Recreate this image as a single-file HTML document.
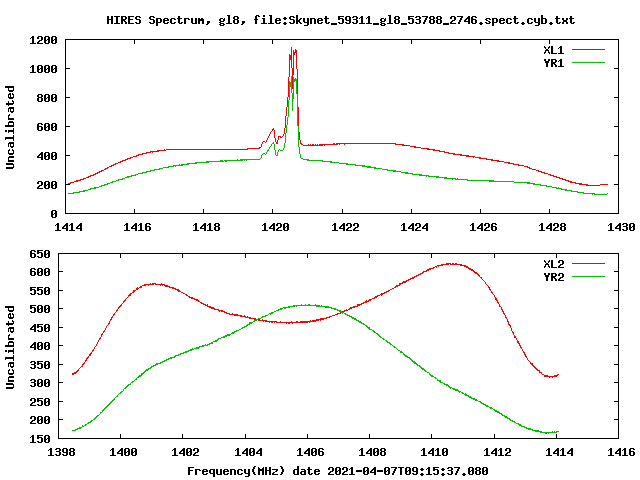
<!DOCTYPE html>
<html lang="en">
<head>
<meta charset="utf-8">
<title>HIRES Spectrum, gl8</title>
<style>
html,body{margin:0;padding:0;background:#fff;}
body{width:640px;height:480px;overflow:hidden;font-family:"Liberation Mono",monospace;}
svg{display:block;shape-rendering:crispEdges;}
/* real text layer (selectable/accessible); visible glyphs are the 7x13 bitmap shapes drawn on top */
#labels text{font:bold 11.67px "Liberation Mono",monospace;fill:#000;fill-opacity:0;white-space:pre;}
</style>
</head>
<body>
<svg width="640" height="480" viewBox="0 0 640 480">
<defs><path id="c40" d="M3 2h2v1h-2zM2 3h2v1h-2zM2 4h2v1h-2zM1 5h2v1h-2zM1 6h2v1h-2zM1 7h2v1h-2zM2 8h2v1h-2zM2 9h2v1h-2zM3 10h2v1h-2z"/><path id="c41" d="M1 2h2v1h-2zM2 3h2v1h-2zM2 4h2v1h-2zM3 5h2v1h-2zM3 6h2v1h-2zM3 7h2v1h-2zM2 8h2v1h-2zM2 9h2v1h-2zM1 10h2v1h-2z"/><path id="c44" d="M2 8h3v1h-3zM2 9h3v1h-3zM2 10h2v1h-2zM1 11h2v1h-2z"/><path id="c45" d="M0 6h6v1h-6zM0 7h6v1h-6z"/><path id="c46" d="M2 9h2v1h-2zM1 10h4v1h-4zM2 11h2v1h-2z"/><path id="c48" d="M1 3h4v1h-4zM0 4h2v1h-2zM4 4h2v1h-2zM0 5h2v1h-2zM4 5h2v1h-2zM0 6h2v1h-2zM3 6h3v1h-3zM0 7h3v1h-3zM4 7h2v1h-2zM0 8h2v1h-2zM4 8h2v1h-2zM0 9h2v1h-2zM4 9h2v1h-2zM1 10h4v1h-4z"/><path id="c49" d="M2 3h2v1h-2zM1 4h3v1h-3zM0 5h1v1h-1zM2 5h2v1h-2zM2 6h2v1h-2zM2 7h2v1h-2zM2 8h2v1h-2zM2 9h2v1h-2zM0 10h6v1h-6z"/><path id="c50" d="M1 3h4v1h-4zM0 4h2v1h-2zM4 4h2v1h-2zM0 5h2v1h-2zM4 5h2v1h-2zM4 6h2v1h-2zM2 7h3v1h-3zM1 8h2v1h-2zM0 9h2v1h-2zM0 10h6v1h-6z"/><path id="c51" d="M1 3h4v1h-4zM0 4h2v1h-2zM4 4h2v1h-2zM4 5h2v1h-2zM1 6h4v1h-4zM4 7h2v1h-2zM4 8h2v1h-2zM0 9h2v1h-2zM4 9h2v1h-2zM1 10h4v1h-4z"/><path id="c52" d="M4 3h2v1h-2zM3 4h3v1h-3zM2 5h4v1h-4zM1 6h2v1h-2zM4 6h2v1h-2zM0 7h2v1h-2zM4 7h2v1h-2zM0 8h6v1h-6zM4 9h2v1h-2zM4 10h2v1h-2z"/><path id="c53" d="M0 3h6v1h-6zM0 4h2v1h-2zM0 5h5v1h-5zM0 6h2v1h-2zM4 6h2v1h-2zM4 7h2v1h-2zM4 8h2v1h-2zM0 9h2v1h-2zM4 9h2v1h-2zM1 10h4v1h-4z"/><path id="c54" d="M1 3h4v1h-4zM0 4h2v1h-2zM4 4h2v1h-2zM0 5h2v1h-2zM0 6h5v1h-5zM0 7h2v1h-2zM4 7h2v1h-2zM0 8h2v1h-2zM4 8h2v1h-2zM0 9h2v1h-2zM4 9h2v1h-2zM1 10h4v1h-4z"/><path id="c55" d="M0 3h6v1h-6zM4 4h2v1h-2zM3 5h2v1h-2zM3 6h2v1h-2zM2 7h2v1h-2zM2 8h2v1h-2zM1 9h2v1h-2zM1 10h2v1h-2z"/><path id="c56" d="M1 3h4v1h-4zM0 4h2v1h-2zM4 4h2v1h-2zM0 5h2v1h-2zM4 5h2v1h-2zM1 6h4v1h-4zM0 7h2v1h-2zM4 7h2v1h-2zM0 8h2v1h-2zM4 8h2v1h-2zM0 9h2v1h-2zM4 9h2v1h-2zM1 10h4v1h-4z"/><path id="c57" d="M1 3h4v1h-4zM0 4h2v1h-2zM4 4h2v1h-2zM0 5h2v1h-2zM4 5h2v1h-2zM0 6h2v1h-2zM4 6h2v1h-2zM1 7h5v1h-5zM4 8h2v1h-2zM0 9h2v1h-2zM4 9h2v1h-2zM1 10h4v1h-4z"/><path id="c58" d="M2 4h2v1h-2zM1 5h4v1h-4zM2 6h2v1h-2zM2 9h2v1h-2zM1 10h4v1h-4zM2 11h2v1h-2z"/><path id="c69" d="M0 3h6v1h-6zM0 4h2v1h-2zM0 5h2v1h-2zM0 6h5v1h-5zM0 7h2v1h-2zM0 8h2v1h-2zM0 9h2v1h-2zM0 10h6v1h-6z"/><path id="c70" d="M0 3h6v1h-6zM0 4h2v1h-2zM0 5h2v1h-2zM0 6h5v1h-5zM0 7h2v1h-2zM0 8h2v1h-2zM0 9h2v1h-2zM0 10h2v1h-2z"/><path id="c72" d="M0 3h2v1h-2zM4 3h2v1h-2zM0 4h2v1h-2zM4 4h2v1h-2zM0 5h2v1h-2zM4 5h2v1h-2zM0 6h6v1h-6zM0 7h2v1h-2zM4 7h2v1h-2zM0 8h2v1h-2zM4 8h2v1h-2zM0 9h2v1h-2zM4 9h2v1h-2zM0 10h2v1h-2zM4 10h2v1h-2z"/><path id="c73" d="M0 3h6v1h-6zM2 4h2v1h-2zM2 5h2v1h-2zM2 6h2v1h-2zM2 7h2v1h-2zM2 8h2v1h-2zM2 9h2v1h-2zM0 10h6v1h-6z"/><path id="c76" d="M0 3h2v1h-2zM0 4h2v1h-2zM0 5h2v1h-2zM0 6h2v1h-2zM0 7h2v1h-2zM0 8h2v1h-2zM0 9h2v1h-2zM0 10h6v1h-6z"/><path id="c77" d="M0 3h1v1h-1zM5 3h1v1h-1zM0 4h2v1h-2zM4 4h2v1h-2zM0 5h6v1h-6zM0 6h6v1h-6zM0 7h2v1h-2zM4 7h2v1h-2zM0 8h2v1h-2zM4 8h2v1h-2zM0 9h2v1h-2zM4 9h2v1h-2zM0 10h2v1h-2zM4 10h2v1h-2z"/><path id="c82" d="M0 3h5v1h-5zM0 4h2v1h-2zM4 4h2v1h-2zM0 5h2v1h-2zM4 5h2v1h-2zM0 6h5v1h-5zM0 7h4v1h-4zM0 8h2v1h-2zM3 8h2v1h-2zM0 9h2v1h-2zM4 9h2v1h-2zM0 10h2v1h-2zM4 10h2v1h-2z"/><path id="c83" d="M1 3h4v1h-4zM0 4h2v1h-2zM4 4h2v1h-2zM0 5h2v1h-2zM1 6h4v1h-4zM4 7h2v1h-2zM4 8h2v1h-2zM0 9h2v1h-2zM4 9h2v1h-2zM1 10h4v1h-4z"/><path id="c84" d="M0 3h6v1h-6zM2 4h2v1h-2zM2 5h2v1h-2zM2 6h2v1h-2zM2 7h2v1h-2zM2 8h2v1h-2zM2 9h2v1h-2zM2 10h2v1h-2z"/><path id="c85" d="M0 3h2v1h-2zM4 3h2v1h-2zM0 4h2v1h-2zM4 4h2v1h-2zM0 5h2v1h-2zM4 5h2v1h-2zM0 6h2v1h-2zM4 6h2v1h-2zM0 7h2v1h-2zM4 7h2v1h-2zM0 8h2v1h-2zM4 8h2v1h-2zM0 9h2v1h-2zM4 9h2v1h-2zM1 10h4v1h-4z"/><path id="c88" d="M0 3h1v1h-1zM5 3h1v1h-1zM0 4h2v1h-2zM4 4h2v1h-2zM1 5h1v1h-1zM4 5h1v1h-1zM2 6h2v1h-2zM1 7h4v1h-4zM1 8h1v1h-1zM4 8h1v1h-1zM0 9h2v1h-2zM4 9h2v1h-2zM0 10h1v1h-1zM5 10h1v1h-1z"/><path id="c89" d="M0 3h2v1h-2zM4 3h2v1h-2zM0 4h2v1h-2zM4 4h2v1h-2zM1 5h4v1h-4zM1 6h4v1h-4zM2 7h2v1h-2zM2 8h2v1h-2zM2 9h2v1h-2zM2 10h2v1h-2z"/><path id="c95" d="M0 10h6v1h-6zM0 11h6v1h-6z"/><path id="c97" d="M1 5h4v1h-4zM4 6h2v1h-2zM1 7h5v1h-5zM0 8h2v1h-2zM4 8h2v1h-2zM0 9h2v1h-2zM4 9h2v1h-2zM1 10h5v1h-5z"/><path id="c98" d="M0 2h2v1h-2zM0 3h2v1h-2zM0 4h2v1h-2zM0 5h5v1h-5zM0 6h2v1h-2zM4 6h2v1h-2zM0 7h2v1h-2zM4 7h2v1h-2zM0 8h2v1h-2zM4 8h2v1h-2zM0 9h2v1h-2zM4 9h2v1h-2zM0 10h5v1h-5z"/><path id="c99" d="M1 5h4v1h-4zM0 6h2v1h-2zM4 6h2v1h-2zM0 7h2v1h-2zM0 8h2v1h-2zM0 9h2v1h-2zM4 9h2v1h-2zM1 10h4v1h-4z"/><path id="c100" d="M4 2h2v1h-2zM4 3h2v1h-2zM4 4h2v1h-2zM1 5h5v1h-5zM0 6h2v1h-2zM4 6h2v1h-2zM0 7h2v1h-2zM4 7h2v1h-2zM0 8h2v1h-2zM4 8h2v1h-2zM0 9h2v1h-2zM4 9h2v1h-2zM1 10h5v1h-5z"/><path id="c101" d="M1 5h4v1h-4zM0 6h2v1h-2zM4 6h2v1h-2zM0 7h6v1h-6zM0 8h2v1h-2zM0 9h2v1h-2zM4 9h2v1h-2zM1 10h4v1h-4z"/><path id="c102" d="M2 2h3v1h-3zM1 3h2v1h-2zM4 3h2v1h-2zM1 4h2v1h-2zM1 5h2v1h-2zM0 6h4v1h-4zM1 7h2v1h-2zM1 8h2v1h-2zM1 9h2v1h-2zM1 10h2v1h-2z"/><path id="c103" d="M1 5h3v1h-3zM5 5h1v1h-1zM0 6h2v1h-2zM4 6h2v1h-2zM0 7h2v1h-2zM4 7h2v1h-2zM1 8h4v1h-4zM0 9h2v1h-2zM1 10h4v1h-4zM0 11h2v1h-2zM4 11h2v1h-2zM1 12h4v1h-4z"/><path id="c105" d="M2 2h2v1h-2zM2 3h2v1h-2zM1 5h3v1h-3zM2 6h2v1h-2zM2 7h2v1h-2zM2 8h2v1h-2zM2 9h2v1h-2zM0 10h6v1h-6z"/><path id="c107" d="M0 2h2v1h-2zM0 3h2v1h-2zM0 4h2v1h-2zM0 5h2v1h-2zM4 5h2v1h-2zM0 6h2v1h-2zM3 6h2v1h-2zM0 7h4v1h-4zM0 8h4v1h-4zM0 9h2v1h-2zM3 9h2v1h-2zM0 10h2v1h-2zM4 10h2v1h-2z"/><path id="c108" d="M1 2h3v1h-3zM2 3h2v1h-2zM2 4h2v1h-2zM2 5h2v1h-2zM2 6h2v1h-2zM2 7h2v1h-2zM2 8h2v1h-2zM2 9h2v1h-2zM0 10h6v1h-6z"/><path id="c109" d="M0 5h2v1h-2zM3 5h2v1h-2zM0 6h6v1h-6zM0 7h6v1h-6zM0 8h2v1h-2zM4 8h2v1h-2zM0 9h2v1h-2zM4 9h2v1h-2zM0 10h2v1h-2zM4 10h2v1h-2z"/><path id="c110" d="M0 5h5v1h-5zM0 6h2v1h-2zM4 6h2v1h-2zM0 7h2v1h-2zM4 7h2v1h-2zM0 8h2v1h-2zM4 8h2v1h-2zM0 9h2v1h-2zM4 9h2v1h-2zM0 10h2v1h-2zM4 10h2v1h-2z"/><path id="c112" d="M0 5h5v1h-5zM0 6h2v1h-2zM4 6h2v1h-2zM0 7h2v1h-2zM4 7h2v1h-2zM0 8h2v1h-2zM4 8h2v1h-2zM0 9h5v1h-5zM0 10h2v1h-2zM0 11h2v1h-2zM0 12h2v1h-2z"/><path id="c113" d="M1 5h5v1h-5zM0 6h2v1h-2zM4 6h2v1h-2zM0 7h2v1h-2zM4 7h2v1h-2zM0 8h2v1h-2zM4 8h2v1h-2zM1 9h5v1h-5zM4 10h2v1h-2zM4 11h2v1h-2zM4 12h2v1h-2z"/><path id="c114" d="M0 5h5v1h-5zM0 6h2v1h-2zM4 6h2v1h-2zM0 7h2v1h-2zM0 8h2v1h-2zM0 9h2v1h-2zM0 10h2v1h-2z"/><path id="c115" d="M1 5h4v1h-4zM0 6h2v1h-2zM4 6h2v1h-2zM1 7h2v1h-2zM3 8h2v1h-2zM0 9h2v1h-2zM4 9h2v1h-2zM1 10h4v1h-4z"/><path id="c116" d="M1 3h2v1h-2zM1 4h2v1h-2zM0 5h5v1h-5zM1 6h2v1h-2zM1 7h2v1h-2zM1 8h2v1h-2zM1 9h2v1h-2zM4 9h2v1h-2zM2 10h3v1h-3z"/><path id="c117" d="M0 5h2v1h-2zM4 5h2v1h-2zM0 6h2v1h-2zM4 6h2v1h-2zM0 7h2v1h-2zM4 7h2v1h-2zM0 8h2v1h-2zM4 8h2v1h-2zM0 9h2v1h-2zM4 9h2v1h-2zM1 10h5v1h-5z"/><path id="c120" d="M0 5h2v1h-2zM4 5h2v1h-2zM0 6h2v1h-2zM4 6h2v1h-2zM1 7h4v1h-4zM1 8h4v1h-4zM0 9h2v1h-2zM4 9h2v1h-2zM0 10h2v1h-2zM4 10h2v1h-2z"/><path id="c121" d="M0 5h2v1h-2zM4 5h2v1h-2zM0 6h2v1h-2zM4 6h2v1h-2zM0 7h2v1h-2zM4 7h2v1h-2zM0 8h2v1h-2zM4 8h2v1h-2zM1 9h5v1h-5zM4 10h2v1h-2zM4 11h2v1h-2zM1 12h4v1h-4z"/><path id="c122" d="M0 5h6v1h-6zM4 6h2v1h-2zM3 7h2v1h-2zM1 8h2v1h-2zM0 9h2v1h-2zM0 10h6v1h-6z"/></defs>
<rect width="640" height="480" fill="#fff"/>
<g id="curves">
<path fill="#f00" d="M261 144v3h1v-3zM274 130v8h1v-8zM275 138v4h1v-4zM277 140v4h1v-4zM278 136v4h1v-4zM284 128v6h1v-6zM285 116v12h1v-12zM286 107v9h1v-9zM287 97v10h1v-10zM288 77v20h1v-20zM289 54v23h1v-23zM290 55v5h1v-5zM291 47v21h1v-21zM292 68v21h1v-21zM293 50v25h1v-25zM294 52v3h1v-3zM295 49v4h1v-4zM296 50v19h1v-19zM297 69v38h1v-38zM298 107v25h1v-25zM299 132v8h1v-8zM300 140v4h1v-4zM273 128h1v1h-1zM272 129h2v1h-2zM272 130h1v1h-1zM271 131h1v1h-1zM270 132h1v1h-1zM270 133h1v1h-1zM269 134h1v1h-1zM283 134h1v1h-1zM269 135h1v1h-1zM283 135h1v1h-1zM268 136h1v1h-1zM279 136h2v1h-2zM282 136h1v1h-1zM268 137h1v1h-1zM280 137h2v1h-2zM267 138h1v1h-1zM267 139h1v1h-1zM266 140h1v1h-1zM263 141h2v1h-2zM266 141h1v1h-1zM262 142h1v1h-1zM265 142h1v1h-1zM276 142h1v1h-1zM262 143h1v1h-1zM276 143h1v1h-1zM301 143h1v1h-1zM333 143h2v1h-2zM336 143h60v1h-60zM301 144h2v1h-2zM308 144h1v1h-1zM310 144h1v1h-1zM312 144h2v1h-2zM315 144h1v1h-1zM317 144h1v1h-1zM319 144h19v1h-19zM339 144h1v1h-1zM344 144h1v1h-1zM395 144h9v1h-9zM303 145h20v1h-20zM324 145h1v1h-1zM402 145h8v1h-8zM410 146h6v1h-6zM259 147h2v1h-2zM414 147h7v1h-7zM247 148h13v1h-13zM421 148h8v1h-8zM164 149h1v1h-1zM166 149h82v1h-82zM427 149h8v1h-8zM157 150h9v1h-9zM433 150h7v1h-7zM150 151h9v1h-9zM439 151h6v1h-6zM146 152h5v1h-5zM152 152h1v1h-1zM444 152h5v1h-5zM142 153h5v1h-5zM448 153h7v1h-7zM138 154h5v1h-5zM453 154h9v1h-9zM136 155h3v1h-3zM460 155h9v1h-9zM133 156h4v1h-4zM466 156h9v1h-9zM130 157h3v1h-3zM473 157h1v1h-1zM475 157h6v1h-6zM127 158h4v1h-4zM479 158h8v1h-8zM125 159h3v1h-3zM486 159h7v1h-7zM122 160h4v1h-4zM491 160h8v1h-8zM120 161h3v1h-3zM497 161h7v1h-7zM118 162h3v1h-3zM504 162h6v1h-6zM115 163h3v1h-3zM508 163h6v1h-6zM113 164h3v1h-3zM513 164h6v1h-6zM111 165h3v1h-3zM518 165h6v1h-6zM109 166h3v1h-3zM524 166h4v1h-4zM107 167h2v1h-2zM527 167h3v1h-3zM105 168h3v1h-3zM529 168h3v1h-3zM104 169h2v1h-2zM532 169h4v1h-4zM101 170h3v1h-3zM536 170h3v1h-3zM99 171h3v1h-3zM538 171h4v1h-4zM97 172h3v1h-3zM541 172h4v1h-4zM95 173h3v1h-3zM544 173h4v1h-4zM93 174h3v1h-3zM548 174h3v1h-3zM90 175h4v1h-4zM550 175h4v1h-4zM88 176h3v1h-3zM553 176h4v1h-4zM86 177h3v1h-3zM556 177h4v1h-4zM83 178h3v1h-3zM559 178h4v1h-4zM80 179h4v1h-4zM562 179h4v1h-4zM76 180h5v1h-5zM565 180h4v1h-4zM74 181h4v1h-4zM568 181h4v1h-4zM70 182h4v1h-4zM570 182h6v1h-6zM68 183h3v1h-3zM575 183h7v1h-7zM579 184h9v1h-9zM600 184h8v1h-8zM586 185h14v1h-14z"/>
<path fill="#00c000" d="M261 155v3h1v-3zM274 144v6h1v-6zM275 150v5h1v-5zM277 152v4h1v-4zM284 143v5h1v-5zM285 133v10h1v-10zM286 125v8h1v-8zM287 117v8h1v-8zM288 100v17h1v-17zM289 81v19h1v-19zM290 82v5h1v-5zM291 76v17h1v-17zM292 93v18h1v-18zM293 77v22h1v-22zM294 79v3h1v-3zM295 78v3h1v-3zM296 79v15h1v-15zM297 94v32h1v-32zM298 126v21h1v-21zM299 147v7h1v-7zM300 154v4h1v-4zM273 142h1v1h-1zM272 143h2v1h-2zM271 144h1v1h-1zM271 145h1v1h-1zM270 146h1v1h-1zM269 147h1v1h-1zM269 148h1v1h-1zM283 148h1v1h-1zM268 149h1v1h-1zM279 149h1v1h-1zM283 149h1v1h-1zM267 150h2v1h-2zM278 150h1v1h-1zM280 150h3v1h-3zM267 151h1v1h-1zM278 151h1v1h-1zM266 152h1v1h-1zM263 153h2v1h-2zM266 153h1v1h-1zM262 154h1v1h-1zM265 154h1v1h-1zM276 155h1v1h-1zM260 158h1v1h-1zM301 158h2v1h-2zM237 159h1v1h-1zM240 159h20v1h-20zM303 159h6v1h-6zM220 160h3v1h-3zM224 160h19v1h-19zM244 160h1v1h-1zM246 160h1v1h-1zM307 160h16v1h-16zM206 161h18v1h-18zM225 161h2v1h-2zM322 161h10v1h-10zM195 162h14v1h-14zM330 162h9v1h-9zM187 163h10v1h-10zM339 163h9v1h-9zM179 164h1v1h-1zM181 164h8v1h-8zM346 164h10v1h-10zM173 165h10v1h-10zM355 165h10v1h-10zM168 166h6v1h-6zM175 166h1v1h-1zM362 166h9v1h-9zM163 167h6v1h-6zM367 167h9v1h-9zM159 168h4v1h-4zM374 168h8v1h-8zM154 169h6v1h-6zM382 169h6v1h-6zM150 170h5v1h-5zM387 170h9v1h-9zM146 171h5v1h-5zM393 171h8v1h-8zM142 172h5v1h-5zM401 172h7v1h-7zM138 173h5v1h-5zM405 173h8v1h-8zM135 174h3v1h-3zM412 174h10v1h-10zM131 175h5v1h-5zM419 175h10v1h-10zM127 176h5v1h-5zM426 176h1v1h-1zM428 176h11v1h-11zM125 177h4v1h-4zM436 177h11v1h-11zM122 178h3v1h-3zM444 178h12v1h-12zM457 178h1v1h-1zM118 179h5v1h-5zM452 179h1v1h-1zM455 179h13v1h-13zM116 180h3v1h-3zM467 180h27v1h-27zM112 181h4v1h-4zM489 181h25v1h-25zM110 182h3v1h-3zM514 182h16v1h-16zM107 183h3v1h-3zM527 183h8v1h-8zM104 184h4v1h-4zM533 184h8v1h-8zM101 185h4v1h-4zM540 185h7v1h-7zM99 186h3v1h-3zM546 186h6v1h-6zM94 187h5v1h-5zM552 187h5v1h-5zM558 187h1v1h-1zM90 188h6v1h-6zM556 188h6v1h-6zM88 189h3v1h-3zM561 189h6v1h-6zM83 190h5v1h-5zM565 190h7v1h-7zM79 191h6v1h-6zM571 191h7v1h-7zM73 192h7v1h-7zM577 192h7v1h-7zM68 193h6v1h-6zM583 193h12v1h-12zM607 193h1v1h-1zM592 194h1v1h-1zM594 194h13v1h-13z"/>
<path fill="#f00" d="M82 364v3h1v-3zM86 358v3h1v-3zM90 353v3h1v-3zM101 334v3h1v-3zM109 321v3h1v-3zM111 317v3h1v-3zM130 293v3h1v-3zM133 290v3h1v-3zM137 287v3h1v-3zM178 289v3h1v-3zM207 304v3h1v-3zM320 318v3h1v-3zM357 304v3h1v-3zM366 300v3h1v-3zM381 293v3h1v-3zM399 283v3h1v-3zM489 287v3h1v-3zM495 297v3h1v-3zM496 298v3h1v-3zM497 300v3h1v-3zM499 304v3h1v-3zM501 307v3h1v-3zM502 309v3h1v-3zM503 311v3h1v-3zM505 315v3h1v-3zM507 319v3h1v-3zM508 321v4h1v-4zM510 325v3h1v-3zM511 328v3h1v-3zM513 332v3h1v-3zM514 335v3h1v-3zM517 340v3h1v-3zM518 341v3h1v-3zM519 343v3h1v-3zM520 345v3h1v-3zM524 352v3h1v-3zM525 354v3h1v-3zM532 363v3h1v-3zM539 370v3h1v-3zM446 263h5v1h-5zM452 263h2v1h-2zM455 263h2v1h-2zM441 264h8v1h-8zM450 264h12v1h-12zM437 265h6v1h-6zM460 265h6v1h-6zM435 266h2v1h-2zM438 266h1v1h-1zM464 266h4v1h-4zM433 267h2v1h-2zM436 267h1v1h-1zM466 267h3v1h-3zM429 268h5v1h-5zM468 268h3v1h-3zM427 269h4v1h-4zM469 269h4v1h-4zM426 270h3v1h-3zM471 270h3v1h-3zM423 271h4v1h-4zM473 271h2v1h-2zM422 272h2v1h-2zM474 272h3v1h-3zM420 273h3v1h-3zM475 273h3v1h-3zM418 274h3v1h-3zM477 274h2v1h-2zM416 275h3v1h-3zM478 275h2v1h-2zM414 276h3v1h-3zM479 276h1v1h-1zM412 277h3v1h-3zM480 277h2v1h-2zM410 278h4v1h-4zM481 278h1v1h-1zM408 279h3v1h-3zM482 279h1v1h-1zM406 280h3v1h-3zM483 280h1v1h-1zM403 281h4v1h-4zM484 281h1v1h-1zM402 282h4v1h-4zM485 282h1v1h-1zM150 283h1v1h-1zM152 283h4v1h-4zM161 283h1v1h-1zM400 283h3v1h-3zM485 283h1v1h-1zM144 284h10v1h-10zM155 284h10v1h-10zM400 284h1v1h-1zM486 284h1v1h-1zM142 285h4v1h-4zM148 285h1v1h-1zM160 285h1v1h-1zM162 285h1v1h-1zM164 285h4v1h-4zM396 285h3v1h-3zM487 285h1v1h-1zM140 286h2v1h-2zM165 286h5v1h-5zM395 286h3v1h-3zM488 286h1v1h-1zM139 287h3v1h-3zM169 287h5v1h-5zM394 287h2v1h-2zM488 287h1v1h-1zM136 288h1v1h-1zM138 288h1v1h-1zM172 288h4v1h-4zM392 288h2v1h-2zM136 289h1v1h-1zM175 289h3v1h-3zM390 289h2v1h-2zM490 289h1v1h-1zM134 290h2v1h-2zM177 290h1v1h-1zM179 290h1v1h-1zM388 290h2v1h-2zM490 290h1v1h-1zM134 291h1v1h-1zM179 291h2v1h-2zM386 291h3v1h-3zM491 291h1v1h-1zM132 292h1v1h-1zM181 292h2v1h-2zM384 292h3v1h-3zM491 292h2v1h-2zM131 293h1v1h-1zM183 293h2v1h-2zM382 293h3v1h-3zM492 293h1v1h-1zM129 294h1v1h-1zM185 294h2v1h-2zM380 294h1v1h-1zM382 294h1v1h-1zM493 294h1v1h-1zM128 295h2v1h-2zM186 295h2v1h-2zM377 295h3v1h-3zM494 295h1v1h-1zM128 296h1v1h-1zM188 296h2v1h-2zM375 296h3v1h-3zM494 296h1v1h-1zM127 297h1v1h-1zM189 297h4v1h-4zM374 297h3v1h-3zM126 298h1v1h-1zM191 298h4v1h-4zM372 298h3v1h-3zM125 299h1v1h-1zM194 299h4v1h-4zM369 299h3v1h-3zM124 300h2v1h-2zM196 300h3v1h-3zM368 300h3v1h-3zM123 301h2v1h-2zM198 301h2v1h-2zM365 301h1v1h-1zM367 301h2v1h-2zM123 302h1v1h-1zM200 302h2v1h-2zM363 302h3v1h-3zM498 302h1v1h-1zM122 303h1v1h-1zM201 303h3v1h-3zM361 303h3v1h-3zM498 303h1v1h-1zM121 304h1v1h-1zM203 304h3v1h-3zM358 304h4v1h-4zM120 305h2v1h-2zM205 305h2v1h-2zM358 305h2v1h-2zM119 306h2v1h-2zM208 306h3v1h-3zM353 306h4v1h-4zM500 306h1v1h-1zM118 307h2v1h-2zM209 307h5v1h-5zM350 307h5v1h-5zM118 308h1v1h-1zM211 308h4v1h-4zM349 308h3v1h-3zM117 309h1v1h-1zM214 309h5v1h-5zM346 309h1v1h-1zM348 309h2v1h-2zM116 310h2v1h-2zM218 310h5v1h-5zM344 310h4v1h-4zM116 311h1v1h-1zM219 311h1v1h-1zM221 311h4v1h-4zM342 311h3v1h-3zM115 312h1v1h-1zM224 312h3v1h-3zM340 312h3v1h-3zM114 313h1v1h-1zM226 313h4v1h-4zM232 313h1v1h-1zM337 313h4v1h-4zM504 313h1v1h-1zM113 314h2v1h-2zM229 314h9v1h-9zM335 314h3v1h-3zM504 314h1v1h-1zM113 315h1v1h-1zM234 315h8v1h-8zM244 315h1v1h-1zM332 315h3v1h-3zM112 316h1v1h-1zM240 316h6v1h-6zM247 316h1v1h-1zM329 316h3v1h-3zM112 317h1v1h-1zM245 317h6v1h-6zM326 317h4v1h-4zM506 317h1v1h-1zM249 318h7v1h-7zM321 318h6v1h-6zM506 318h1v1h-1zM110 319h1v1h-1zM254 319h6v1h-6zM262 319h1v1h-1zM316 319h4v1h-4zM321 319h3v1h-3zM110 320h1v1h-1zM258 320h9v1h-9zM310 320h1v1h-1zM312 320h7v1h-7zM263 321h1v1h-1zM265 321h12v1h-12zM280 321h1v1h-1zM291 321h1v1h-1zM296 321h2v1h-2zM300 321h16v1h-16zM269 322h1v1h-1zM271 322h2v1h-2zM274 322h1v1h-1zM276 322h32v1h-32zM309 322h1v1h-1zM108 323h1v1h-1zM286 323h1v1h-1zM288 323h2v1h-2zM292 323h1v1h-1zM108 324h1v1h-1zM509 324h1v1h-1zM107 325h1v1h-1zM509 325h1v1h-1zM106 326h1v1h-1zM106 327h1v1h-1zM105 328h1v1h-1zM105 329h1v1h-1zM104 330h1v1h-1zM103 331h2v1h-2zM512 331h1v1h-1zM103 332h1v1h-1zM512 332h1v1h-1zM102 333h1v1h-1zM102 334h1v1h-1zM515 336h1v1h-1zM100 337h1v1h-1zM515 337h1v1h-1zM99 338h2v1h-2zM516 338h1v1h-1zM99 339h1v1h-1zM516 339h1v1h-1zM98 340h1v1h-1zM98 341h1v1h-1zM97 342h1v1h-1zM97 343h1v1h-1zM96 344h1v1h-1zM96 345h1v1h-1zM95 346h1v1h-1zM94 347h1v1h-1zM521 347h1v1h-1zM94 348h1v1h-1zM521 348h1v1h-1zM93 349h1v1h-1zM522 349h1v1h-1zM92 350h2v1h-2zM522 350h1v1h-1zM92 351h1v1h-1zM523 351h1v1h-1zM91 352h1v1h-1zM523 352h1v1h-1zM91 353h1v1h-1zM89 354h1v1h-1zM89 355h1v1h-1zM88 356h1v1h-1zM526 356h1v1h-1zM87 357h2v1h-2zM526 357h1v1h-1zM87 358h1v1h-1zM527 358h1v1h-1zM527 359h1v1h-1zM85 360h1v1h-1zM528 360h1v1h-1zM85 361h1v1h-1zM529 361h1v1h-1zM84 362h1v1h-1zM530 362h1v1h-1zM83 363h2v1h-2zM530 363h2v1h-2zM83 364h1v1h-1zM531 364h1v1h-1zM533 365h1v1h-1zM81 366h1v1h-1zM533 366h2v1h-2zM80 367h1v1h-1zM534 367h2v1h-2zM79 368h1v1h-1zM535 368h2v1h-2zM78 369h1v1h-1zM536 369h2v1h-2zM77 370h2v1h-2zM537 370h2v1h-2zM76 371h2v1h-2zM74 372h3v1h-3zM540 372h2v1h-2zM72 373h4v1h-4zM541 373h1v1h-1zM72 374h2v1h-2zM542 374h2v1h-2zM557 374h2v1h-2zM544 375h4v1h-4zM554 375h4v1h-4zM544 376h13v1h-13zM549 377h1v1h-1zM552 377h1v1h-1z"/>
<path fill="#00c000" d="M141 373v3h1v-3zM249 322v3h1v-3zM369 327v3h1v-3zM414 361v3h1v-3zM440 380v3h1v-3zM465 393v3h1v-3zM301 304h1v1h-1zM305 304h1v1h-1zM308 304h2v1h-2zM315 304h1v1h-1zM293 305h27v1h-27zM321 305h1v1h-1zM288 306h7v1h-7zM296 306h1v1h-1zM316 306h13v1h-13zM283 307h7v1h-7zM325 307h7v1h-7zM280 308h3v1h-3zM284 308h2v1h-2zM331 308h5v1h-5zM278 309h4v1h-4zM334 309h4v1h-4zM276 310h3v1h-3zM337 310h4v1h-4zM274 311h2v1h-2zM339 311h3v1h-3zM271 312h3v1h-3zM341 312h3v1h-3zM269 313h4v1h-4zM342 313h1v1h-1zM344 313h2v1h-2zM268 314h1v1h-1zM270 314h1v1h-1zM345 314h3v1h-3zM265 315h3v1h-3zM347 315h3v1h-3zM262 316h4v1h-4zM349 316h3v1h-3zM261 317h2v1h-2zM351 317h3v1h-3zM258 318h3v1h-3zM352 318h4v1h-4zM256 319h2v1h-2zM354 319h3v1h-3zM254 320h3v1h-3zM356 320h3v1h-3zM253 321h2v1h-2zM358 321h3v1h-3zM250 322h3v1h-3zM359 322h3v1h-3zM250 323h2v1h-2zM361 323h3v1h-3zM247 324h2v1h-2zM363 324h2v1h-2zM246 325h2v1h-2zM365 325h2v1h-2zM244 326h3v1h-3zM366 326h2v1h-2zM242 327h3v1h-3zM367 327h2v1h-2zM241 328h2v1h-2zM368 328h1v1h-1zM239 329h2v1h-2zM370 329h2v1h-2zM236 330h3v1h-3zM372 330h2v1h-2zM234 331h3v1h-3zM373 331h2v1h-2zM232 332h3v1h-3zM374 332h2v1h-2zM231 333h3v1h-3zM376 333h2v1h-2zM227 334h4v1h-4zM377 334h2v1h-2zM225 335h5v1h-5zM378 335h2v1h-2zM223 336h4v1h-4zM379 336h2v1h-2zM221 337h4v1h-4zM380 337h2v1h-2zM218 338h3v1h-3zM382 338h2v1h-2zM217 339h2v1h-2zM383 339h2v1h-2zM215 340h3v1h-3zM385 340h2v1h-2zM213 341h4v1h-4zM386 341h2v1h-2zM211 342h2v1h-2zM387 342h3v1h-3zM209 343h4v1h-4zM389 343h2v1h-2zM205 344h1v1h-1zM207 344h3v1h-3zM390 344h2v1h-2zM202 345h6v1h-6zM392 345h1v1h-1zM199 346h5v1h-5zM393 346h2v1h-2zM196 347h4v1h-4zM394 347h2v1h-2zM192 348h1v1h-1zM194 348h5v1h-5zM396 348h1v1h-1zM190 349h4v1h-4zM397 349h1v1h-1zM188 350h4v1h-4zM398 350h2v1h-2zM185 351h4v1h-4zM400 351h2v1h-2zM183 352h4v1h-4zM400 352h3v1h-3zM180 353h4v1h-4zM403 353h1v1h-1zM178 354h3v1h-3zM403 354h2v1h-2zM175 355h4v1h-4zM404 355h3v1h-3zM174 356h2v1h-2zM405 356h3v1h-3zM170 357h5v1h-5zM407 357h3v1h-3zM168 358h4v1h-4zM409 358h2v1h-2zM166 359h3v1h-3zM410 359h2v1h-2zM164 360h3v1h-3zM411 360h2v1h-2zM162 361h3v1h-3zM412 361h2v1h-2zM160 362h3v1h-3zM413 362h1v1h-1zM415 362h1v1h-1zM156 363h5v1h-5zM415 363h2v1h-2zM155 364h3v1h-3zM416 364h2v1h-2zM153 365h3v1h-3zM417 365h3v1h-3zM151 366h3v1h-3zM419 366h2v1h-2zM150 367h2v1h-2zM420 367h2v1h-2zM148 368h3v1h-3zM421 368h3v1h-3zM146 369h3v1h-3zM422 369h3v1h-3zM145 370h3v1h-3zM424 370h2v1h-2zM144 371h2v1h-2zM425 371h2v1h-2zM143 372h2v1h-2zM427 372h2v1h-2zM142 373h2v1h-2zM429 373h1v1h-1zM142 374h1v1h-1zM429 374h2v1h-2zM139 375h2v1h-2zM430 375h3v1h-3zM138 376h3v1h-3zM431 376h3v1h-3zM137 377h2v1h-2zM434 377h2v1h-2zM136 378h1v1h-1zM435 378h2v1h-2zM135 379h2v1h-2zM437 379h1v1h-1zM134 380h1v1h-1zM437 380h3v1h-3zM132 381h2v1h-2zM439 381h1v1h-1zM131 382h2v1h-2zM441 382h2v1h-2zM130 383h1v1h-1zM443 383h2v1h-2zM128 384h3v1h-3zM444 384h4v1h-4zM127 385h2v1h-2zM446 385h3v1h-3zM126 386h2v1h-2zM448 386h2v1h-2zM125 387h2v1h-2zM449 387h3v1h-3zM124 388h2v1h-2zM450 388h1v1h-1zM452 388h3v1h-3zM123 389h1v1h-1zM453 389h5v1h-5zM123 390h1v1h-1zM455 390h4v1h-4zM121 391h2v1h-2zM458 391h3v1h-3zM120 392h2v1h-2zM459 392h1v1h-1zM461 392h2v1h-2zM119 393h2v1h-2zM462 393h2v1h-2zM118 394h1v1h-1zM464 394h1v1h-1zM466 394h1v1h-1zM117 395h1v1h-1zM466 395h3v1h-3zM116 396h2v1h-2zM468 396h3v1h-3zM115 397h1v1h-1zM469 397h3v1h-3zM114 398h1v1h-1zM471 398h4v1h-4zM113 399h2v1h-2zM473 399h4v1h-4zM112 400h2v1h-2zM475 400h3v1h-3zM111 401h2v1h-2zM478 401h3v1h-3zM110 402h2v1h-2zM480 402h2v1h-2zM109 403h2v1h-2zM481 403h3v1h-3zM108 404h2v1h-2zM483 404h3v1h-3zM107 405h2v1h-2zM485 405h3v1h-3zM106 406h2v1h-2zM486 406h3v1h-3zM105 407h2v1h-2zM489 407h3v1h-3zM104 408h2v1h-2zM490 408h3v1h-3zM103 409h2v1h-2zM493 409h2v1h-2zM102 410h2v1h-2zM494 410h3v1h-3zM102 411h1v1h-1zM495 411h4v1h-4zM100 412h2v1h-2zM497 412h3v1h-3zM100 413h1v1h-1zM499 413h3v1h-3zM99 414h1v1h-1zM501 414h2v1h-2zM97 415h2v1h-2zM502 415h3v1h-3zM96 416h2v1h-2zM504 416h3v1h-3zM95 417h2v1h-2zM505 417h3v1h-3zM94 418h2v1h-2zM507 418h3v1h-3zM93 419h2v1h-2zM509 419h2v1h-2zM91 420h2v1h-2zM510 420h3v1h-3zM90 421h2v1h-2zM512 421h3v1h-3zM88 422h3v1h-3zM514 422h2v1h-2zM87 423h2v1h-2zM516 423h3v1h-3zM85 424h2v1h-2zM518 424h3v1h-3zM82 425h1v1h-1zM84 425h2v1h-2zM519 425h3v1h-3zM82 426h2v1h-2zM521 426h4v1h-4zM79 427h3v1h-3zM524 427h3v1h-3zM77 428h4v1h-4zM526 428h5v1h-5zM75 429h3v1h-3zM528 429h5v1h-5zM72 430h4v1h-4zM532 430h7v1h-7zM535 431h7v1h-7zM552 431h1v1h-1zM554 431h1v1h-1zM556 431h3v1h-3zM540 432h17v1h-17zM545 433h2v1h-2zM548 433h1v1h-1z"/>
</g>
<g id="axes">
<rect x="65" y="39" width="554" height="1" fill="#000"/>
<rect x="65" y="213" width="554" height="1" fill="#000"/>
<rect x="65" y="39" width="1" height="175" fill="#000"/>
<rect x="618" y="39" width="1" height="175" fill="#000"/>
<rect x="65" y="209" width="1" height="5" fill="#000"/>
<rect x="65" y="39" width="1" height="5" fill="#000"/>
<rect x="134" y="209" width="1" height="5" fill="#000"/>
<rect x="134" y="39" width="1" height="5" fill="#000"/>
<rect x="203" y="209" width="1" height="5" fill="#000"/>
<rect x="203" y="39" width="1" height="5" fill="#000"/>
<rect x="272" y="209" width="1" height="5" fill="#000"/>
<rect x="272" y="39" width="1" height="5" fill="#000"/>
<rect x="342" y="209" width="1" height="5" fill="#000"/>
<rect x="342" y="39" width="1" height="5" fill="#000"/>
<rect x="411" y="209" width="1" height="5" fill="#000"/>
<rect x="411" y="39" width="1" height="5" fill="#000"/>
<rect x="480" y="209" width="1" height="5" fill="#000"/>
<rect x="480" y="39" width="1" height="5" fill="#000"/>
<rect x="549" y="209" width="1" height="5" fill="#000"/>
<rect x="549" y="39" width="1" height="5" fill="#000"/>
<rect x="618" y="209" width="1" height="5" fill="#000"/>
<rect x="618" y="39" width="1" height="5" fill="#000"/>
<rect x="65" y="213" width="5" height="1" fill="#000"/>
<rect x="614" y="213" width="5" height="1" fill="#000"/>
<rect x="65" y="184" width="5" height="1" fill="#000"/>
<rect x="614" y="184" width="5" height="1" fill="#000"/>
<rect x="65" y="155" width="5" height="1" fill="#000"/>
<rect x="614" y="155" width="5" height="1" fill="#000"/>
<rect x="65" y="126" width="5" height="1" fill="#000"/>
<rect x="614" y="126" width="5" height="1" fill="#000"/>
<rect x="65" y="97" width="5" height="1" fill="#000"/>
<rect x="614" y="97" width="5" height="1" fill="#000"/>
<rect x="65" y="68" width="5" height="1" fill="#000"/>
<rect x="614" y="68" width="5" height="1" fill="#000"/>
<rect x="65" y="39" width="5" height="1" fill="#000"/>
<rect x="614" y="39" width="5" height="1" fill="#000"/>
<rect x="58" y="253" width="561" height="1" fill="#000"/>
<rect x="58" y="438" width="561" height="1" fill="#000"/>
<rect x="58" y="253" width="1" height="186" fill="#000"/>
<rect x="618" y="253" width="1" height="186" fill="#000"/>
<rect x="58" y="434" width="1" height="5" fill="#000"/>
<rect x="58" y="253" width="1" height="5" fill="#000"/>
<rect x="120" y="434" width="1" height="5" fill="#000"/>
<rect x="120" y="253" width="1" height="5" fill="#000"/>
<rect x="182" y="434" width="1" height="5" fill="#000"/>
<rect x="182" y="253" width="1" height="5" fill="#000"/>
<rect x="245" y="434" width="1" height="5" fill="#000"/>
<rect x="245" y="253" width="1" height="5" fill="#000"/>
<rect x="307" y="434" width="1" height="5" fill="#000"/>
<rect x="307" y="253" width="1" height="5" fill="#000"/>
<rect x="369" y="434" width="1" height="5" fill="#000"/>
<rect x="369" y="253" width="1" height="5" fill="#000"/>
<rect x="431" y="434" width="1" height="5" fill="#000"/>
<rect x="431" y="253" width="1" height="5" fill="#000"/>
<rect x="494" y="434" width="1" height="5" fill="#000"/>
<rect x="494" y="253" width="1" height="5" fill="#000"/>
<rect x="556" y="434" width="1" height="5" fill="#000"/>
<rect x="556" y="253" width="1" height="5" fill="#000"/>
<rect x="618" y="434" width="1" height="5" fill="#000"/>
<rect x="618" y="253" width="1" height="5" fill="#000"/>
<rect x="58" y="438" width="5" height="1" fill="#000"/>
<rect x="614" y="438" width="5" height="1" fill="#000"/>
<rect x="58" y="419" width="5" height="1" fill="#000"/>
<rect x="614" y="419" width="5" height="1" fill="#000"/>
<rect x="58" y="401" width="5" height="1" fill="#000"/>
<rect x="614" y="401" width="5" height="1" fill="#000"/>
<rect x="58" y="382" width="5" height="1" fill="#000"/>
<rect x="614" y="382" width="5" height="1" fill="#000"/>
<rect x="58" y="364" width="5" height="1" fill="#000"/>
<rect x="614" y="364" width="5" height="1" fill="#000"/>
<rect x="58" y="345" width="5" height="1" fill="#000"/>
<rect x="614" y="345" width="5" height="1" fill="#000"/>
<rect x="58" y="327" width="5" height="1" fill="#000"/>
<rect x="614" y="327" width="5" height="1" fill="#000"/>
<rect x="58" y="308" width="5" height="1" fill="#000"/>
<rect x="614" y="308" width="5" height="1" fill="#000"/>
<rect x="58" y="290" width="5" height="1" fill="#000"/>
<rect x="614" y="290" width="5" height="1" fill="#000"/>
<rect x="58" y="271" width="5" height="1" fill="#000"/>
<rect x="614" y="271" width="5" height="1" fill="#000"/>
<rect x="58" y="253" width="5" height="1" fill="#000"/>
<rect x="614" y="253" width="5" height="1" fill="#000"/>
<rect x="572" y="49" width="33" height="1" fill="#f00"/>
<rect x="572" y="62" width="33" height="1" fill="#00c000"/>
<rect x="572" y="263" width="33" height="1" fill="#f00"/>
<rect x="572" y="276" width="33" height="1" fill="#00c000"/>
</g>
<g id="labels" fill="#000">
<g transform="translate(55 220)"><text y="11" textLength="28">1414</text><use href="#c49" x="0"/><use href="#c52" x="7"/><use href="#c49" x="14"/><use href="#c52" x="21"/></g>
<g transform="translate(124 220)"><text y="11" textLength="28">1416</text><use href="#c49" x="0"/><use href="#c52" x="7"/><use href="#c49" x="14"/><use href="#c54" x="21"/></g>
<g transform="translate(193 220)"><text y="11" textLength="28">1418</text><use href="#c49" x="0"/><use href="#c52" x="7"/><use href="#c49" x="14"/><use href="#c56" x="21"/></g>
<g transform="translate(262 220)"><text y="11" textLength="28">1420</text><use href="#c49" x="0"/><use href="#c52" x="7"/><use href="#c50" x="14"/><use href="#c48" x="21"/></g>
<g transform="translate(332 220)"><text y="11" textLength="28">1422</text><use href="#c49" x="0"/><use href="#c52" x="7"/><use href="#c50" x="14"/><use href="#c50" x="21"/></g>
<g transform="translate(401 220)"><text y="11" textLength="28">1424</text><use href="#c49" x="0"/><use href="#c52" x="7"/><use href="#c50" x="14"/><use href="#c52" x="21"/></g>
<g transform="translate(470 220)"><text y="11" textLength="28">1426</text><use href="#c49" x="0"/><use href="#c52" x="7"/><use href="#c50" x="14"/><use href="#c54" x="21"/></g>
<g transform="translate(539 220)"><text y="11" textLength="28">1428</text><use href="#c49" x="0"/><use href="#c52" x="7"/><use href="#c50" x="14"/><use href="#c56" x="21"/></g>
<g transform="translate(608 220)"><text y="11" textLength="28">1430</text><use href="#c49" x="0"/><use href="#c52" x="7"/><use href="#c51" x="14"/><use href="#c48" x="21"/></g>
<g transform="translate(51 207)"><text y="11" textLength="7">0</text><use href="#c48" x="0"/></g>
<g transform="translate(37 178)"><text y="11" textLength="21">200</text><use href="#c50" x="0"/><use href="#c48" x="7"/><use href="#c48" x="14"/></g>
<g transform="translate(37 149)"><text y="11" textLength="21">400</text><use href="#c52" x="0"/><use href="#c48" x="7"/><use href="#c48" x="14"/></g>
<g transform="translate(37 120)"><text y="11" textLength="21">600</text><use href="#c54" x="0"/><use href="#c48" x="7"/><use href="#c48" x="14"/></g>
<g transform="translate(37 91)"><text y="11" textLength="21">800</text><use href="#c56" x="0"/><use href="#c48" x="7"/><use href="#c48" x="14"/></g>
<g transform="translate(30 62)"><text y="11" textLength="28">1000</text><use href="#c49" x="0"/><use href="#c48" x="7"/><use href="#c48" x="14"/><use href="#c48" x="21"/></g>
<g transform="translate(30 33)"><text y="11" textLength="28">1200</text><use href="#c49" x="0"/><use href="#c50" x="7"/><use href="#c48" x="14"/><use href="#c48" x="21"/></g>
<g transform="translate(48 445)"><text y="11" textLength="28">1398</text><use href="#c49" x="0"/><use href="#c51" x="7"/><use href="#c57" x="14"/><use href="#c56" x="21"/></g>
<g transform="translate(110 445)"><text y="11" textLength="28">1400</text><use href="#c49" x="0"/><use href="#c52" x="7"/><use href="#c48" x="14"/><use href="#c48" x="21"/></g>
<g transform="translate(172 445)"><text y="11" textLength="28">1402</text><use href="#c49" x="0"/><use href="#c52" x="7"/><use href="#c48" x="14"/><use href="#c50" x="21"/></g>
<g transform="translate(235 445)"><text y="11" textLength="28">1404</text><use href="#c49" x="0"/><use href="#c52" x="7"/><use href="#c48" x="14"/><use href="#c52" x="21"/></g>
<g transform="translate(297 445)"><text y="11" textLength="28">1406</text><use href="#c49" x="0"/><use href="#c52" x="7"/><use href="#c48" x="14"/><use href="#c54" x="21"/></g>
<g transform="translate(359 445)"><text y="11" textLength="28">1408</text><use href="#c49" x="0"/><use href="#c52" x="7"/><use href="#c48" x="14"/><use href="#c56" x="21"/></g>
<g transform="translate(421 445)"><text y="11" textLength="28">1410</text><use href="#c49" x="0"/><use href="#c52" x="7"/><use href="#c49" x="14"/><use href="#c48" x="21"/></g>
<g transform="translate(484 445)"><text y="11" textLength="28">1412</text><use href="#c49" x="0"/><use href="#c52" x="7"/><use href="#c49" x="14"/><use href="#c50" x="21"/></g>
<g transform="translate(546 445)"><text y="11" textLength="28">1414</text><use href="#c49" x="0"/><use href="#c52" x="7"/><use href="#c49" x="14"/><use href="#c52" x="21"/></g>
<g transform="translate(608 445)"><text y="11" textLength="28">1416</text><use href="#c49" x="0"/><use href="#c52" x="7"/><use href="#c49" x="14"/><use href="#c54" x="21"/></g>
<g transform="translate(30 432)"><text y="11" textLength="21">150</text><use href="#c49" x="0"/><use href="#c53" x="7"/><use href="#c48" x="14"/></g>
<g transform="translate(30 413)"><text y="11" textLength="21">200</text><use href="#c50" x="0"/><use href="#c48" x="7"/><use href="#c48" x="14"/></g>
<g transform="translate(30 395)"><text y="11" textLength="21">250</text><use href="#c50" x="0"/><use href="#c53" x="7"/><use href="#c48" x="14"/></g>
<g transform="translate(30 376)"><text y="11" textLength="21">300</text><use href="#c51" x="0"/><use href="#c48" x="7"/><use href="#c48" x="14"/></g>
<g transform="translate(30 358)"><text y="11" textLength="21">350</text><use href="#c51" x="0"/><use href="#c53" x="7"/><use href="#c48" x="14"/></g>
<g transform="translate(30 339)"><text y="11" textLength="21">400</text><use href="#c52" x="0"/><use href="#c48" x="7"/><use href="#c48" x="14"/></g>
<g transform="translate(30 321)"><text y="11" textLength="21">450</text><use href="#c52" x="0"/><use href="#c53" x="7"/><use href="#c48" x="14"/></g>
<g transform="translate(30 302)"><text y="11" textLength="21">500</text><use href="#c53" x="0"/><use href="#c48" x="7"/><use href="#c48" x="14"/></g>
<g transform="translate(30 284)"><text y="11" textLength="21">550</text><use href="#c53" x="0"/><use href="#c53" x="7"/><use href="#c48" x="14"/></g>
<g transform="translate(30 265)"><text y="11" textLength="21">600</text><use href="#c54" x="0"/><use href="#c48" x="7"/><use href="#c48" x="14"/></g>
<g transform="translate(30 247)"><text y="11" textLength="21">650</text><use href="#c54" x="0"/><use href="#c53" x="7"/><use href="#c48" x="14"/></g>
<g transform="translate(107 13)"><text y="11" textLength="469">HIRES Spectrum, gl8, file:Skynet_59311_gl8_53788_2746.spect.cyb.txt</text><use href="#c72" x="0"/><use href="#c73" x="7"/><use href="#c82" x="14"/><use href="#c69" x="21"/><use href="#c83" x="28"/><use href="#c83" x="42"/><use href="#c112" x="49"/><use href="#c101" x="56"/><use href="#c99" x="63"/><use href="#c116" x="70"/><use href="#c114" x="77"/><use href="#c117" x="84"/><use href="#c109" x="91"/><use href="#c44" x="98"/><use href="#c103" x="112"/><use href="#c108" x="119"/><use href="#c56" x="126"/><use href="#c44" x="133"/><use href="#c102" x="147"/><use href="#c105" x="154"/><use href="#c108" x="161"/><use href="#c101" x="168"/><use href="#c58" x="175"/><use href="#c83" x="182"/><use href="#c107" x="189"/><use href="#c121" x="196"/><use href="#c110" x="203"/><use href="#c101" x="210"/><use href="#c116" x="217"/><use href="#c95" x="224"/><use href="#c53" x="231"/><use href="#c57" x="238"/><use href="#c51" x="245"/><use href="#c49" x="252"/><use href="#c49" x="259"/><use href="#c95" x="266"/><use href="#c103" x="273"/><use href="#c108" x="280"/><use href="#c56" x="287"/><use href="#c95" x="294"/><use href="#c53" x="301"/><use href="#c51" x="308"/><use href="#c55" x="315"/><use href="#c56" x="322"/><use href="#c56" x="329"/><use href="#c95" x="336"/><use href="#c50" x="343"/><use href="#c55" x="350"/><use href="#c52" x="357"/><use href="#c54" x="364"/><use href="#c46" x="371"/><use href="#c115" x="378"/><use href="#c112" x="385"/><use href="#c101" x="392"/><use href="#c99" x="399"/><use href="#c116" x="406"/><use href="#c46" x="413"/><use href="#c99" x="420"/><use href="#c121" x="427"/><use href="#c98" x="434"/><use href="#c46" x="441"/><use href="#c116" x="448"/><use href="#c120" x="455"/><use href="#c116" x="462"/></g>
<g transform="translate(188 464)"><text y="11" textLength="301">Frequency(MHz) date 2021-04-07T09:15:37.080</text><use href="#c70" x="0"/><use href="#c114" x="7"/><use href="#c101" x="14"/><use href="#c113" x="21"/><use href="#c117" x="28"/><use href="#c101" x="35"/><use href="#c110" x="42"/><use href="#c99" x="49"/><use href="#c121" x="56"/><use href="#c40" x="63"/><use href="#c77" x="70"/><use href="#c72" x="77"/><use href="#c122" x="84"/><use href="#c41" x="91"/><use href="#c100" x="105"/><use href="#c97" x="112"/><use href="#c116" x="119"/><use href="#c101" x="126"/><use href="#c50" x="140"/><use href="#c48" x="147"/><use href="#c50" x="154"/><use href="#c49" x="161"/><use href="#c45" x="168"/><use href="#c48" x="175"/><use href="#c52" x="182"/><use href="#c45" x="189"/><use href="#c48" x="196"/><use href="#c55" x="203"/><use href="#c84" x="210"/><use href="#c48" x="217"/><use href="#c57" x="224"/><use href="#c58" x="231"/><use href="#c49" x="238"/><use href="#c53" x="245"/><use href="#c58" x="252"/><use href="#c51" x="259"/><use href="#c55" x="266"/><use href="#c46" x="273"/><use href="#c48" x="280"/><use href="#c56" x="287"/><use href="#c48" x="294"/></g>
<g transform="translate(3 169) rotate(-90)"><text y="11" textLength="84">Uncalibrated</text><use href="#c85" x="0"/><use href="#c110" x="7"/><use href="#c99" x="14"/><use href="#c97" x="21"/><use href="#c108" x="28"/><use href="#c105" x="35"/><use href="#c98" x="42"/><use href="#c114" x="49"/><use href="#c97" x="56"/><use href="#c116" x="63"/><use href="#c101" x="70"/><use href="#c100" x="77"/></g>
<g transform="translate(3 389) rotate(-90)"><text y="11" textLength="84">Uncalibrated</text><use href="#c85" x="0"/><use href="#c110" x="7"/><use href="#c99" x="14"/><use href="#c97" x="21"/><use href="#c108" x="28"/><use href="#c105" x="35"/><use href="#c98" x="42"/><use href="#c114" x="49"/><use href="#c97" x="56"/><use href="#c116" x="63"/><use href="#c101" x="70"/><use href="#c100" x="77"/></g>
<g transform="translate(544 43)"><text y="11" textLength="21">XL1</text><use href="#c88" x="0"/><use href="#c76" x="7"/><use href="#c49" x="14"/></g>
<g transform="translate(544 56)"><text y="11" textLength="21">YR1</text><use href="#c89" x="0"/><use href="#c82" x="7"/><use href="#c49" x="14"/></g>
<g transform="translate(544 257)"><text y="11" textLength="21">XL2</text><use href="#c88" x="0"/><use href="#c76" x="7"/><use href="#c50" x="14"/></g>
<g transform="translate(544 270)"><text y="11" textLength="21">YR2</text><use href="#c89" x="0"/><use href="#c82" x="7"/><use href="#c50" x="14"/></g>
</g>
</svg>
</body>
</html>
